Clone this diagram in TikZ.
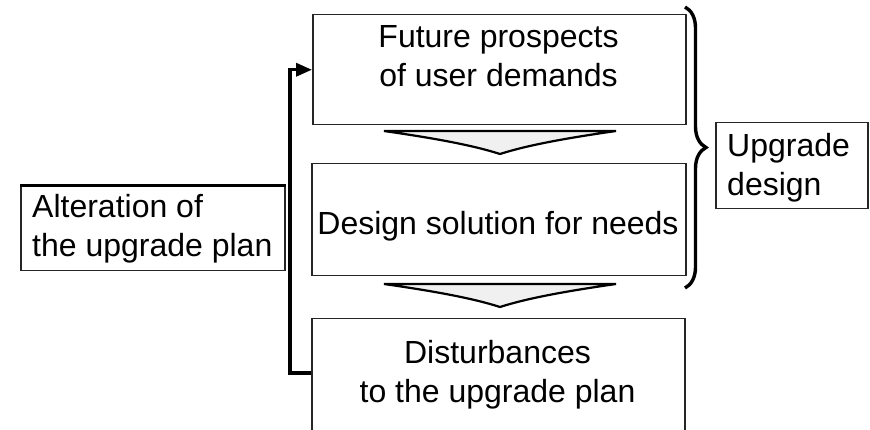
\documentclass[tikz,border=0pt]{standalone}
\usepackage{fontspec}
\setmainfont{Liberation Sans}
\usetikzlibrary{arrows.meta,decorations.pathreplacing,calc}
\begin{document}
\begin{tikzpicture}[x=1pt,y=-1pt,
  box/.style={draw=black!85,line width=1.5pt,rectangle,inner sep=0pt,anchor=north west},
  txt/.style={inner sep=0pt,anchor=north,align=center,font=\fontsize{32}{39}\selectfont},
  ltxt/.style={txt,anchor=north west,align=left},
  chev/.style={draw=black,line width=2.2pt,fill=black!6,line join=miter},
  loopline/.style={draw=black,line width=3.4pt,line join=miter,-{Triangle[length=16pt,width=13pt]}},
  curly/.style={draw=black,line width=3.4pt,decorate,decoration={brace,amplitude=21pt}}
]
\useasboundingbox (0,0) rectangle (870,430);

% stage boxes
\node[box,minimum width=373,minimum height=110] (fut) at (312,14) {};
\node[box,minimum width=374,minimum height=112] (des) at (311,163) {};
\node[box,minimum width=373,minimum height=140] (dist) at (311,318) {};
\node[box,minimum width=264,minimum height=84] (alt) at (20,186) {};
\node[box,minimum width=152,minimum height=86] (upg) at (715,122) {};
\draw[line width=3pt] (alt.north west) -- (alt.north east);

% box texts
\node[txt] (futt) at (498.5,25) {Future prospects\\of user demands};
\node[txt] (dest) at (498,211) {Design solution for needs};
\node[txt] (distt) at (497.5,340) {Disturbances\\to the upgrade plan};
\node[ltxt] (altt) at (32,194) {Alteration of\\the upgrade plan};
\node[ltxt] (upgt) at (727,133) {Upgrade\\design};

% flow chevrons between the stages
\draw[chev] (384,131) -- (616,131) .. controls (560,139) and (525,146) .. (500,154)
  .. controls (475,146) and (440,139) .. (384,131) -- cycle;
\draw[chev] (384,284) -- (616,284) .. controls (560,292) and (525,299) .. (500,307)
  .. controls (475,299) and (440,292) .. (384,284) -- cycle;

% brace grouping the design stages
\coordinate (btop) at (685,7);
\coordinate (bbot) at (685,288);
\draw[curly] (btop) -- (bbot);

% feedback loop from disturbances back to the first stage
\draw[loopline] ($(dist.north west)+(0,55)$) -| ($(fut.west)+(-22,0)$) -- (fut.west);
\end{tikzpicture}
\end{document}
